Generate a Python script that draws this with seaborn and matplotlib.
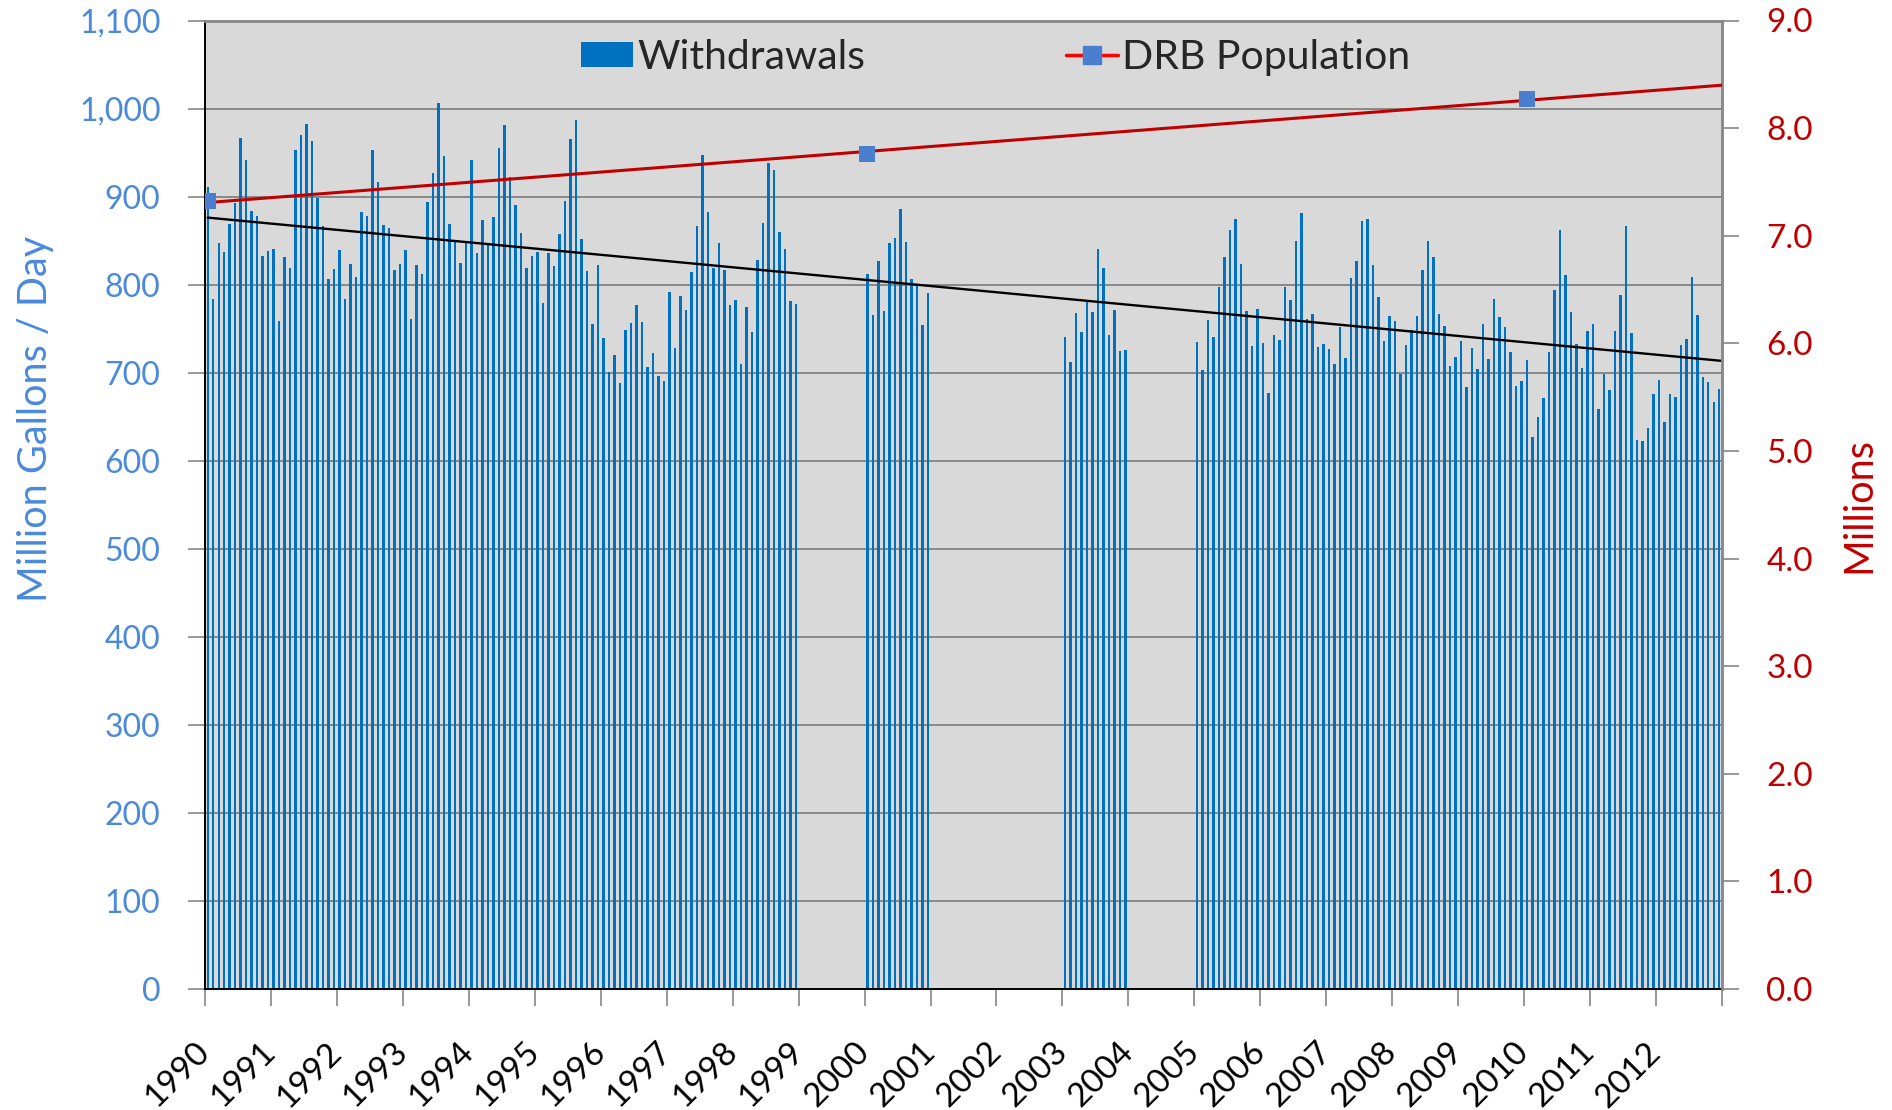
import numpy as np
import pandas as pd
import matplotlib
matplotlib.use("Agg")
import matplotlib.pyplot as plt
import seaborn as sns
from matplotlib.lines import Line2D
from matplotlib.patches import Patch
from matplotlib.ticker import FuncFormatter

# ---------------- data (million gallons / day, monthly) ----------------
w1990 = [911, 784, 847, 837, 869, 893, 966, 941, 884, 878, 833, 838]
w1991 = [840, 759, 831, 819, 953, 970, 983, 963, 898, 867, 806, 818]
w1992 = [839, 784, 823, 809, 883, 878, 953, 917, 868, 864, 817, 824]
w1993 = [839, 761, 822, 812, 894, 927, 1006, 946, 869, 848, 825, 850]
w1994 = [941, 836, 873, 846, 877, 955, 981, 922, 890, 859, 819, 833]
w1995 = [837, 779, 836, 821, 857, 895, 965, 987, 852, 816, 755, 822]
w1996 = [739, 701, 720, 688, 749, 756, 777, 758, 707, 722, 696, 691]
w1997 = [792, 728, 787, 771, 814, 867, 947, 882, 819, 847, 817, 777]
w1998 = [783, 710, 775, 746, 828, 870, 938, 930, 860, 841, 781, 778]
w2000 = [812, 766, 827, 770, 847, 853, 886, 848, 806, 798, 754, 790]
w2003 = [741, 712, 768, 746, 782, 769, 841, 819, 743, 771, 725, 726]
w2005 = [735, 703, 760, 741, 797, 831, 862, 875, 824, 770, 730, 772]
w2006 = [734, 677, 743, 737, 797, 782, 850, 881, 761, 767, 729, 733]
w2007 = [727, 710, 752, 717, 807, 827, 872, 875, 822, 786, 736, 764]
w2008 = [759, 699, 732, 749, 764, 817, 849, 831, 767, 753, 708, 718]
w2009 = [736, 684, 728, 704, 755, 715, 784, 763, 752, 724, 685, 690]
w2010 = [714, 627, 650, 671, 723, 794, 862, 811, 769, 733, 705, 747]
w2011 = [755, 659, 698, 680, 747, 788, 867, 745, 623, 622, 637, 676]
w2012 = [692, 644, 676, 672, 731, 738, 809, 766, 695, 689, 667, 681]

data_years = [1990, 1991, 1992, 1993, 1994, 1995, 1996, 1997, 1998,
              2000, 2003, 2005, 2006, 2007, 2008, 2009, 2010, 2011, 2012]
data_series = [w1990, w1991, w1992, w1993, w1994, w1995, w1996, w1997, w1998,
               w2000, w2003, w2005, w2006, w2007, w2008, w2009, w2010, w2011, w2012]

year_labels = [str(y) for y in range(1990, 2013)]

pop_years = [1990, 2000, 2010]
pop_millions = [7.32, 7.76, 8.27]

# ---------------- build table ----------------
rows = []
for yr, vals in zip(data_years, data_series):
    for m, v in enumerate(vals):
        rows.append({"pos": (yr - 1990) * 12 + m + 0.5, "mgd": v})
df = pd.DataFrame(rows)
pop_df = pd.DataFrame({"pos": [(y - 1990) * 12 + 0.5 for y in pop_years],
                       "pop": pop_millions})
n_months = len(year_labels) * 12

# ---------------- style ----------------
sns.set_theme(style="white")
plt.rcParams["font.family"] = ["Lato", "DejaVu Sans"]

BAR = "#0070C0"
LBLUE = "#4A89DC"
RED = "#C00000"
GRAY = "#868686"

fig = plt.figure(figsize=(18.92, 11.10), dpi=100)
L, R, T, B = 205, 1722, 20.5, 989
ax = fig.add_axes([L / 1892, 1 - B / 1110, (R - L) / 1892, (B - T) / 1110])
ax.set_facecolor("#D9D9D9")
ax.set_axisbelow(True)

sns.barplot(data=df, x="pos", y="mgd", native_scale=True, width=0.45,
            color=BAR, saturation=1, errorbar=None, linewidth=0, ax=ax)

# linear trend of withdrawals
coef = np.polyfit(df["pos"], df["mgd"], 1)
tx = np.array([0.5, n_months])
sns.lineplot(x=tx, y=np.polyval(coef, tx), color="black", lw=1.7, ax=ax, zorder=5)

ax.set_xlim(0, n_months)
ax.set_ylim(0, 1100)
ax.set_yticks(np.arange(0, 1101, 100))
ax.yaxis.set_major_formatter(FuncFormatter(lambda v, p: f"{v:,.0f}"))
ax.yaxis.grid(True, color="#7A7A7A", lw=1.2)
ax.xaxis.grid(False)
ax.set_xticks(np.arange(0, n_months + 1, 12))
ax.set_xticklabels(year_labels + [""], rotation=45, ha="right", va="center",
                   rotation_mode="anchor")
ax.tick_params(axis="x", length=12, width=1.2, color=GRAY, pad=30,
               labelsize=24, labelcolor="black", bottom=True)
ax.tick_params(axis="y", length=12, width=1.2, color=GRAY, pad=20,
               labelsize=23, labelcolor=LBLUE, left=True)
ax.set_xlabel("")
ax.set_ylabel("Million Gallons / Day", color=LBLUE, fontsize=28.5)
ax.yaxis.set_label_coords(-0.0995, 0.589)
for s in ["left", "bottom"]:
    ax.spines[s].set_color("black")
    ax.spines[s].set_linewidth(1.4)
ax.spines["top"].set_color(GRAY)
ax.spines["top"].set_linewidth(2)
ax.spines["right"].set_visible(False)

# population axis
ax2 = ax.twinx()
pop_coef = np.polyfit(pop_df["pos"], pop_df["pop"], 1)
sns.lineplot(x=tx, y=np.polyval(pop_coef, tx), color=RED, lw=2.2, ax=ax2, zorder=3)
sns.scatterplot(data=pop_df, x="pos", y="pop", marker="s", s=130,
                color="#4A7FD0", edgecolor="none", ax=ax2, zorder=4)
ax2.set_ylim(0, 9)
ax2.set_yticks(np.arange(0, 9.1, 1))
ax2.yaxis.set_major_formatter(FuncFormatter(lambda v, p: f"{v:.1f}"))
ax2.tick_params(axis="y", length=12, width=1.2, color=GRAY, pad=20,
                labelsize=24, labelcolor=RED, right=True)
ax2.set_xlim(0, n_months)
ax2.set_xlabel("")
ax2.set_ylabel("Millions", color=RED, fontsize=28.5, rotation=90)
ax2.yaxis.set_label_coords(1.0778, 0.5)
for s in ["left", "bottom", "top"]:
    ax2.spines[s].set_visible(False)
ax2.spines["right"].set_color(GRAY)
ax2.spines["right"].set_linewidth(2)

handles = [Patch(facecolor=BAR, edgecolor="none"),
           Line2D([], [], color="#FF0000", lw=2.5, marker="s", ms=13,
                  mfc="#4A7FD0", mec="#4A7FD0")]
ax2.legend(handles, ["Withdrawals", "DRB Population"], loc="upper center",
           bbox_to_anchor=(0.521, 1.0), ncol=2, frameon=False, fontsize=29.5,
           columnspacing=4.9, handlelength=1.27, handleheight=0.58,
           handletextpad=0.1, borderaxespad=0.05)

fig.savefig("out.png", dpi=100)
